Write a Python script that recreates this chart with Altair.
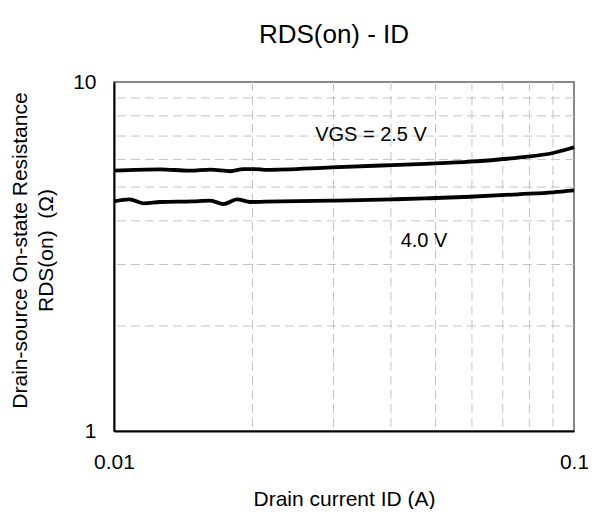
import altair as alt
import pandas as pd

# Curve data
id_25 = [0.0100, 0.0126, 0.0146, 0.0162, 0.0179, 0.0191, 0.0208, 0.0213, 0.0297, 0.0402, 0.0475, 0.0594, 0.0763, 0.0900, 0.1000]
r_25 = [5.57, 5.62, 5.57, 5.61, 5.55, 5.63, 5.62, 5.60, 5.69, 5.78, 5.83, 5.91, 6.08, 6.26, 6.50]

id_40 = [0.0100, 0.0108, 0.0116, 0.0126, 0.0148, 0.0162, 0.0173, 0.0185, 0.0198, 0.0213, 0.0297, 0.0402, 0.0475, 0.0594, 0.0763, 0.0900, 0.1000]
r_40 = [4.55, 4.61, 4.49, 4.53, 4.55, 4.57, 4.47, 4.61, 4.53, 4.54, 4.57, 4.61, 4.64, 4.69, 4.77, 4.83, 4.89]

x_grid = [0.02, 0.03, 0.04, 0.05, 0.06, 0.07, 0.08, 0.09]
y_grid = [2, 3, 4, 5, 6, 7, 8, 9]

x_ticks = [0.01, 0.1]
y_ticks = [1, 10]

label_text = ["VGS = 2.5 V", "4.0 V"]
label_x = [0.0362, 0.0472]
label_y = [7.05, 3.50]

FONT = "Liberation Sans"

curves = pd.DataFrame({
    "id": id_25 + id_40,
    "r": r_25 + r_40,
    "series": ["2.5"] * len(id_25) + ["4.0"] * len(id_40),
})
xg = pd.DataFrame({"x": x_grid})
yg = pd.DataFrame({"y": y_grid})
labels = pd.DataFrame({"t": label_text, "x": label_x, "y": label_y})

xscale = alt.Scale(type="log", domain=[0.01, 0.1], nice=False)
yscale = alt.Scale(type="log", domain=[1, 10], nice=False)

xaxis = alt.Axis(values=x_ticks, format=".2~f", title="Drain current ID (A)",
                 grid=False, ticks=False, domainColor="black", domainWidth=2,
                 labelFont=FONT, labelFontSize=21, labelColor="black",
                 labelPadding=20, titleFont=FONT, titleFontSize=21,
                 titleFontWeight="normal", titleColor="black", titlePadding=16,
                 labelFlush=False)
yaxis = alt.Axis(values=y_ticks, format="d",
                 title=["Drain-source On-state Resistance", "RDS(on)\u00a0\u00a0(Ω)"],
                 grid=False, ticks=False, domainColor="black", domainWidth=2,
                 labelFont=FONT, labelFontSize=21, labelColor="black",
                 labelPadding=18, titleFont=FONT, titleFontSize=21,
                 titleFontWeight="normal", titleColor="black", titlePadding=16,
                 titleLineHeight=26, titleY=168, labelFlush=False)

grid_style = dict(stroke="#c4c4c4", strokeWidth=1, strokeDash=[9, 5])

vgrid = alt.Chart(xg).mark_rule(**grid_style).encode(
    x=alt.X("x:Q", scale=xscale, axis=xaxis)
)
hgrid = alt.Chart(yg).mark_rule(**grid_style).encode(
    y=alt.Y("y:Q", scale=yscale, axis=yaxis)
)

lines = alt.Chart(curves).mark_line(
    color="black", strokeWidth=3.8, interpolate="monotone"
).encode(
    x=alt.X("id:Q", scale=xscale, axis=xaxis),
    y=alt.Y("r:Q", scale=yscale, axis=yaxis),
    detail="series:N",
)

text = alt.Chart(labels).mark_text(
    font=FONT, fontSize=20, color="black", align="center", baseline="middle"
).encode(
    x=alt.X("x:Q", scale=xscale, axis=xaxis),
    y=alt.Y("y:Q", scale=yscale, axis=yaxis),
    text="t:N",
)

chart = alt.layer(vgrid, hgrid, lines, text).properties(
    width=460,
    height=349,
    title=alt.TitleParams("RDS(on) - ID", font=FONT, fontSize=26, fontWeight="normal",
                          color="black", anchor="middle", dx=-10, offset=23),
    autosize=alt.AutoSizeParams(type="none"),
    padding={"left": 106, "top": 74, "right": 14, "bottom": 78},
).configure_view(
    stroke="#888888", strokeWidth=2
)

chart.save("out.html", embed_options={"renderer": "svg", "actions": False})
